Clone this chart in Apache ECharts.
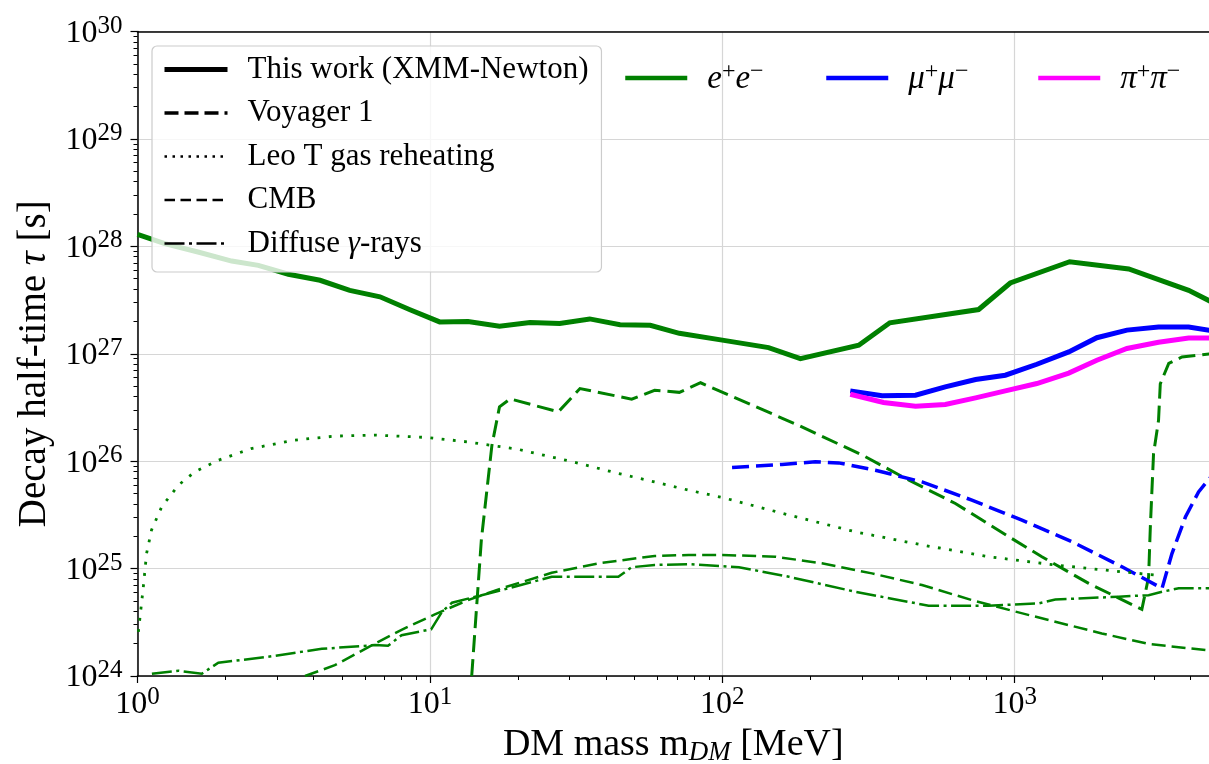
<!DOCTYPE html>
<html><head><meta charset="utf-8">
<script src="https://cdn.jsdelivr.net/npm/echarts@6/dist/echarts.min.js"></script>
<style>html,body{margin:0;padding:0;background:#fff}#c{width:1209px;height:764px}</style>
</head><body><div id="c"></div>
<script>
// ---- data: [DM mass (MeV), decay time tau (s)] ----
const xmmEE = [[1.0,1.29e28],[1.24,1.06e28],[1.61,8.85e27],[2.10,7.29e27],[2.59,6.65e27],[3.28,5.50e27],[4.21,4.83e27],[5.32,3.89e27],[6.75,3.39e27],[8.55,2.57e27],[10.8,1.98e27],[13.5,2.0e27],[17.3,1.80e27],[22.0,1.95e27],[27.8,1.91e27],[35.2,2.11e27],[44.7,1.86e27],[56.7,1.84e27],[71.3,1.55e27],[100,1.34e27],[144,1.14e27],[185,9.0e26],[293,1.20e27],[374,1.94e27],[753,2.58e27],[966,4.56e27],[1542,7.19e27],[2455,6.15e27],[3936,3.89e27],[4700,3.05e27]];
const xmmMuMu = [[274,4.51e26],[352,4.06e26],[458,4.11e26],[579,4.91e26],[735,5.75e26],[929,6.31e26],[1191,7.98e26],[1531,1.04e27],[1910,1.41e27],[2421,1.66e27],[3105,1.77e27],[3936,1.77e27],[4700,1.64e27]];
const xmmPiPi = [[274,4.20e26],[356,3.52e26],[458,3.25e26],[579,3.37e26],[735,3.88e26],[929,4.51e26],[1191,5.28e26],[1531,6.61e26],[1910,8.71e26],[2421,1.12e27],[3105,1.28e27],[3936,1.40e27],[4700,1.40e27]];
const voyagerEE = [[13.9,1.0e24],[15.0,1.86e25],[16.3,1.41e26],[17.3,3.20e26],[18.8,3.80e26],[27.5,2.88e26],[32.6,4.74e26],[49.0,3.78e26],[58.7,4.57e26],[71.3,4.37e26],[84.3,5.37e26],[182,2.16e26],[301,1.14e26],[435,6.65e25],[627,4.04e25],[955,1.98e25],[1239,1.29e25],[1791,7.28e24],[2723,4.17e24],[2871,8.32e24],[2911,2.45e25],[2985,1.17e26],[3105,2.40e26],[3148,5.25e26],[3365,8.13e26],[3733,9.33e26],[4700,1.0e27]];
const voyagerMuMu = [[108,8.71e25],[160,9.33e25],[208,9.86e25],[250,9.64e25],[334,8.24e25],[482,6.41e25],[714,4.34e25],[1059,2.82e25],[1570,1.78e25],[2328,1.04e25],[3192,6.55e24],[3451,1.38e25],[3837,3.02e25],[4256,5.18e25],[4700,7.2e25]];
const leoTEE = [[1.007,2.57e24],[1.047,6.76e24],[1.074,1.38e25],[1.117,2.29e25],[1.21,3.76e25],[1.38,5.98e25],[1.57,7.94e25],[1.89,1.02e26],[2.45,1.31e26],[3.45,1.57e26],[4.73,1.71e26],[6.49,1.75e26],[9.86,1.66e26],[13.5,1.51e26],[20.0,1.29e26],[29.7,1.01e26],[44.1,7.69e25],[58.7,6.41e25],[76.7,5.37e25],[100,4.59e25],[169,3.15e25],[285,2.20e25],[482,1.66e25],[815,1.29e25],[1377,1.08e25],[2328,9.33e24],[3027,8.71e24]];
const cmbEE = [[3.74,1.0e24],[4.73,1.26e24],[6.49,2.0e24],[8.0,2.69e24],[10.4,3.75e24],[13.5,5.09e24],[17.6,6.55e24],[26.1,9.14e24],[38.6,1.13e25],[58.7,1.31e25],[76.7,1.34e25],[100,1.34e25],[152,1.29e25],[219,1.12e25],[325,9.02e24],[482,7.03e24],[714,5.09e24],[1005,3.98e24],[1377,3.20e24],[1986,2.49e24],[2871,1.99e24],[4700,1.72e24]];
const diffuseEE = [[1.12,1.05e24],[1.38,1.12e24],[1.66,1.05e24],[1.89,1.33e24],[2.80,1.51e24],[4.27,1.79e24],[6.49,1.94e24],[7.19,1.91e24],[8.0,2.40e24],[10.1,2.72e24],[11.0,3.96e24],[11.9,4.81e24],[17.6,6.31e24],[26.1,8.39e24],[44.1,8.39e24],[49.0,1.03e25],[58.7,1.08e25],[76.7,1.10e25],[114,1.03e25],[169,8.39e24],[285,6.08e24],[508,4.51e24],[815,4.51e24],[1208,4.74e24],[1377,5.16e24],[2270,5.47e24],[2871,5.66e24],[3192,6.08e24],[3639,6.55e24],[4700,6.55e24]];

const styleNames = ['This work (XMM-Newton)','Voyager 1','Leo T gas reheating','CMB','Diffuse γ-rays'];
const channelNames = ['e+e-','mu+mu-','pi+pi-'];
const xMajorTicks = [1,10,100,1000];
const xMinorTicks = [2,3,4,5,6,7,8,9,20,30,40,50,60,70,80,90,200,300,400,500,600,700,800,900,2000,3000,4000];
const yMinorTicks = [];
for (let e = 24; e < 30; e++) for (let k = 2; k <= 9; k++) yMinorTicks.push(k * Math.pow(10, e));

const GREEN = '#008000', BLUE = '#0000ff', MAGENTA = '#ff00ff';
const SERIF = 'Liberation Serif';

// line styles (legend icon styles for the style legend)
const styleLegendLines = {
  'This work (XMM-Newton)': {width: 5, type: 'solid'},
  'Voyager 1': {width: 3.5, type: [14, 6]},
  'Leo T gas reheating': {width: 2.5, type: [2.5, 5.5]},
  'CMB': {width: 2.5, type: [10.5, 5.5]},
  'Diffuse γ-rays': {width: 2.5, type: [20, 4.5, 3, 4.5]}
};

function sup(v) {
  const e = Math.round(Math.log10(v));
  return '{b|10}{s|' + e + '}';
}
const tickRich = {
  b: {fontFamily: SERIF, fontSize: 32, color: '#000', lineHeight: 36, verticalAlign: 'bottom'},
  s: {fontFamily: SERIF, fontSize: 25, color: '#000', lineHeight: 22, verticalAlign: 'top'}
};

function line(name, data, color, width, type, z) {
  return {type: 'line', name: name, data: data, showSymbol: false, symbol: 'none',
    lineStyle: {color: color, width: width, type: type, cap: 'butt', join: 'miter'},
    itemStyle: {color: color}, z: z || 2, silent: true, animation: false};
}

const series = [
  line('_xmmEE', xmmEE, GREEN, 5, 'solid', 3),
  line('_xmmMu', xmmMuMu, BLUE, 5, 'solid', 3),
  line('_xmmPi', xmmPiPi, MAGENTA, 5, 'solid', 3),
  line('_voyEE', voyagerEE, GREEN, 3, [17, 7]),
  line('_voyMu', voyagerMuMu, BLUE, 3.5, [17, 7]),
  line('_leoEE', leoTEE, GREEN, 2.8, [2.8, 8.5]),
  line('_cmbEE', cmbEE, GREEN, 2.5, [14, 6]),
  line('_difEE', diffuseEE, GREEN, 2.5, [20, 4.5, 3, 4.5])
];
styleNames.forEach(n => series.push(line(n, [], '#000', styleLegendLines[n].width, styleLegendLines[n].type)));
series.push(line(channelNames[0], [], GREEN, 4.5, 'solid'));
series.push(line(channelNames[1], [], BLUE, 4.5, 'solid'));
series.push(line(channelNames[2], [], MAGENTA, 4.5, 'solid'));

const hiddenSymbol = {color: 'rgba(0,0,0,0)', borderColor: 'rgba(0,0,0,0)', borderWidth: 0};
const legendRich = {
  g: {fontFamily: SERIF, fontSize: 31, fontStyle: 'italic', color: '#000', lineHeight: 30},
  i: {fontFamily: SERIF, fontSize: 33, fontStyle: 'italic', color: '#000', lineHeight: 36, verticalAlign: 'bottom'},
  s: {fontFamily: SERIF, fontSize: 24, color: '#000', lineHeight: 22, verticalAlign: 'top'}
};
const channelLabel = {
  'e+e-': '{i|e}{s|+}{i|e}{s|−}',
  'mu+mu-': '{i|μ}{s|+}{i|μ}{s|−}',
  'pi+pi-': '{i|π}{s|+}{i|π}{s|−}'
};
const channelColors = {'e+e-': GREEN, 'mu+mu-': BLUE, 'pi+pi-': MAGENTA};
function chanLegend(name, left) {
  return {data: [{name: name, lineStyle: {width: 4.5, color: channelColors[name]}}],
    left: left, top: 60, itemWidth: 62, itemHeight: 14, selectedMode: false,
    itemStyle: hiddenSymbol,
    formatter: n => channelLabel[n],
    textStyle: {fontFamily: SERIF, fontSize: 30, color: '#000', padding: [0, 0, 0, 15], rich: legendRich},
    padding: 0};
}

const option = {
  animation: false,
  backgroundColor: '#fff',
  grid: {left: 137.5, right: 0, top: 31.5, bottom: 88, containLabel: false, outerBoundsMode: 'none'},
  xAxis: [
    {type: 'log', logBase: 10, min: 1, max: 4620, gridIndex: 0, position: 'bottom',
     axisLine: {show: true, onZero: false, lineStyle: {color: '#000', width: 1.5}},
     axisTick: {show: true, inside: false, length: 7, lineStyle: {color: '#000', width: 1.2}, customValues: xMajorTicks},
     minorTick: {show: false},
     axisLabel: {show: true, margin: 9, formatter: sup, rich: tickRich, customValues: xMajorTicks},
     splitLine: {show: true, lineStyle: {color: '#d6d6d6', width: 1.2}},
     name: '{n|DM mass m}{sub|DM}{n| [MeV]}', nameLocation: 'middle', nameGap: 46,
     nameTextStyle: {rich: {
       n: {fontFamily: SERIF, fontSize: 38, color: '#000', lineHeight: 42, verticalAlign: 'top'},
       sub: {fontFamily: SERIF, fontSize: 27, fontStyle: 'italic', color: '#000', lineHeight: 27, padding: [14, 0, 0, 0], verticalAlign: 'top'}
     }}},
    {type: 'log', logBase: 10, min: 1, max: 4620, gridIndex: 0, position: 'bottom',
     axisLine: {show: false},
     axisTick: {show: true, inside: false, length: 4, lineStyle: {color: '#000', width: 1}, customValues: xMinorTicks},
     axisLabel: {show: false}, splitLine: {show: false}},
    {type: 'log', logBase: 10, min: 1, max: 4620, gridIndex: 0, position: 'top',
     axisLine: {show: true, onZero: false, lineStyle: {color: '#000', width: 1.5}},
     axisTick: {show: false}, axisLabel: {show: false}, splitLine: {show: false}}
  ],
  yAxis: [
    {type: 'log', logBase: 10, min: 1e24, max: 1e30, gridIndex: 0, position: 'left',
     axisLine: {show: true, onZero: false, lineStyle: {color: '#000', width: 1.5}},
     axisTick: {show: true, inside: false, length: 7, lineStyle: {color: '#000', width: 1.2}},
     axisLabel: {show: true, margin: 15, formatter: sup, rich: tickRich},
     splitLine: {show: true, lineStyle: {color: '#d6d6d6', width: 1.2}},
     name: '{n|Decay half-time }{t|τ}{n| [s]}', nameLocation: 'middle', nameRotate: 90, nameGap: 83,
     nameTextStyle: {padding: [0, 20, 0, 0], rich: {
       n: {fontFamily: SERIF, fontSize: 39, color: '#000'},
       t: {fontFamily: SERIF, fontSize: 39, fontStyle: 'italic', color: '#000'}
     }}},
    {type: 'log', logBase: 10, min: 1e24, max: 1e30, gridIndex: 0, position: 'left',
     axisLine: {show: false},
     axisTick: {show: true, inside: false, length: 4, lineStyle: {color: '#000', width: 1}, customValues: yMinorTicks},
     axisLabel: {show: false}, splitLine: {show: false}}
  ],
  legend: [
    {data: styleNames.map(n => ({name: n, lineStyle: {width: styleLegendLines[n].width, type: styleLegendLines[n].type, color: '#000'}})),
     orient: 'vertical', left: 152, top: 46, itemWidth: 63, itemHeight: 14, itemGap: 12.5,
     selectedMode: false, backgroundColor: 'rgba(255,255,255,0.8)', borderColor: '#cccccc', borderWidth: 1.2, borderRadius: 5,
     padding: [8, 13, 13, 10], itemStyle: hiddenSymbol,
     formatter: n => n === 'Diffuse γ-rays' ? 'Diffuse {g|γ}-rays' : n,
     textStyle: {fontFamily: SERIF, fontSize: 31, color: '#000', lineHeight: 30, padding: [0, 0, 0, 15], rich: legendRich}},
    chanLegend('e+e-', 623),
    chanLegend('mu+mu-', 824),
    chanLegend('pi+pi-', 1036)
  ],
  series: series
};
const chart = echarts.init(document.getElementById('c'), null, {renderer: 'canvas'});
chart.setOption(option);
</script></body></html>
